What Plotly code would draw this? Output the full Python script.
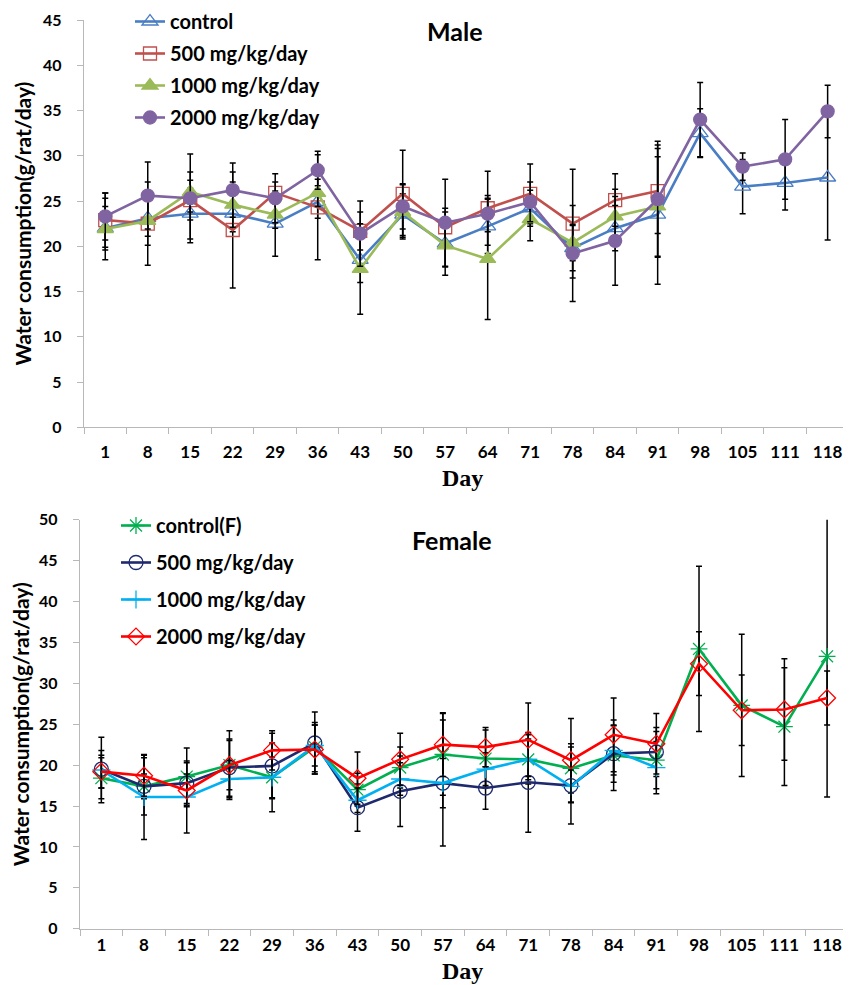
import plotly.graph_objects as go

days = ["1", "8", "15", "22", "29", "36", "43", "50", "57", "64", "71", "78", "84", "91", "98", "105", "111", "118"]
y_ticks_male = [0, 5, 10, 15, 20, 25, 30, 35, 40, 45]
y_ticks_female = [0, 5, 10, 15, 20, 25, 30, 35, 40, 45, 50]

# Male
m_control = [22.0, 23.1, 23.6, 23.6, 22.5, 24.9, 18.5, 23.5, 20.3, 22.2, 24.2, 19.8, 22.0, 23.5, 32.5, 26.6, 27.0, 27.6]
m_control_err = [2.4, 2.0, 2.8, 2.0, 3.6, 1.8, 2.5, 2.3, 3.5, 3.0, 2.0, 2.5, 2.5, 7.7, 2.7, 3.0, 3.0, 6.9]
m500 = [22.9, 22.5, 25.1, 21.8, 25.9, 24.3, 21.7, 25.8, 22.1, 24.2, 25.8, 22.5, 25.1, 26.1]
m500_err = [3.0, 4.6, 2.2, 6.4, 1.2, 5.8, 2.1, 4.8, 2.1, 4.1, 3.3, 6.0, 2.9, 4.7]
m1000 = [21.9, 22.8, 26.0, 24.6, 23.5, 25.9, 17.5, 23.8, 20.1, 18.6, 23.0, 20.4, 23.3, 24.4]
m1000_err = [3.4, 2.7, 2.2, 2.5, 1.5, 1.5, 5.0, 3.0, 2.4, 6.7, 2.4, 2.0, 3.0, 5.5]
m2000 = [23.3, 25.6, 25.3, 26.2, 25.3, 28.4, 21.4, 24.4, 22.6, 23.6, 24.9, 19.2, 20.6, 25.2, 34.0, 28.8, 29.6, 34.9]
m2000_err = [2.6, 3.7, 4.9, 3.0, 2.7, 2.1, 3.6, 2.5, 4.8, 2.0, 2.2, 5.3, 4.9, 6.4, 4.1, 1.5, 4.4, 2.9]

# Female
f_control = [18.4, 17.4, 18.6, 20.0, 18.5, 22.2, 17.0, 19.7, 21.3, 20.8, 20.7, 19.6, 21.2, 20.6, 34.2, 27.3, 24.7, 33.3]
f_control_err = [2.5, 1.5, 3.5, 3.0, 4.2, 3.0, 2.0, 2.5, 5.0, 3.5, 3.0, 3.0, 4.3, 3.5, 10.1, 8.7, 7.2, 17.2]
f500 = [19.5, 17.4, 17.8, 19.7, 19.9, 22.7, 14.8, 16.8, 17.8, 17.2, 17.9, 17.5, 21.4, 21.6]
f500_err = [2.3, 3.5, 2.5, 3.5, 4.0, 3.8, 2.9, 4.3, 7.7, 2.6, 6.1, 4.7, 3.5, 3.0]
f1000 = [19.4, 16.1, 16.1, 18.3, 18.5, 22.4, 15.7, 18.3, 17.8, 19.5, 20.7, 17.4, 21.8, 19.7]
f1000_err = [4.0, 5.2, 4.4, 2.3, 2.5, 2.5, 1.5, 2.0, 3.0, 2.0, 2.5, 2.0, 3.0, 3.2]
f2000 = [19.2, 18.7, 16.9, 20.0, 21.8, 21.9, 18.4, 20.7, 22.5, 22.2, 23.1, 20.6, 23.7, 22.6, 32.4, 26.7, 26.8, 28.2]
f2000_err = [2.0, 2.5, 2.0, 4.2, 2.4, 3.0, 3.2, 3.2, 3.9, 2.4, 4.5, 5.1, 4.5, 3.7, 3.9, 4.3, 6.2, 3.3]

FONT = "Lato"
OFF = 8  # page body margin
W, H = 851 - OFF, 985 - OFF


def px_x(p):
    return (p - OFF) / W


def px_y(p):
    return (H - (p - OFF)) / H


fig = go.Figure()


def add(x, y, err, name, color, symbol, size, xa, ya, legend, lw=2.6):
    fig.add_trace(go.Scatter(
        x=x, y=y, name=name, mode="lines+markers",
        line=dict(color=color, width=lw),
        marker=dict(symbol=symbol, size=size, color=color, line=dict(color=color, width=1.3)),
        error_y=dict(type="data", array=err, visible=True, color="black", thickness=1.5, width=3),
        xaxis=xa, yaxis=ya, legend=legend, legendgroup=name + legend,
    ))


add(days, m_control, m_control_err, "control", "#4A7EC4", "triangle-up-open", 14, "x", "y", "legend")
add(days[:14], m500, m500_err, "500 mg/kg/day", "#C0504D", "square-open", 13, "x", "y", "legend")
add(days[:14], m1000, m1000_err, "1000 mg/kg/day", "#9BBB59", "triangle-up", 14, "x", "y", "legend")
add(days, m2000, m2000_err, "2000 mg/kg/day", "#8064A2", "circle", 13, "x", "y", "legend")

add(days, f_control, f_control_err, "control(F)", "#00B050", "asterisk-open", 14, "x2", "y2", "legend2")
add(days[:14], f500, f500_err, "500 mg/kg/day", "#1F2A6E", "circle-open", 14, "x2", "y2", "legend2")
add(days[:14], f1000, f1000_err, "1000 mg/kg/day", "#00B0F0", "cross-thin-open", 13, "x2", "y2", "legend2")
add(days, f2000, f2000_err, "2000 mg/kg/day", "#FF0000", "diamond-open", 13, "x2", "y2", "legend2")

axis_common = dict(showgrid=False, zeroline=False, showline=True, linecolor="#B8B8B8", linewidth=1.3,
                   ticks="outside", tickcolor="#B8B8B8", ticklen=6, automargin=False)
xfont = dict(family=FONT, size=17, color="black", weight="bold")
yfont = dict(family=FONT, size=16, color="black", weight="bold")
ytitle_font = dict(family=FONT, size=21, weight="bold")

fig.update_layout(
    width=W, height=H, margin=dict(l=0, r=0, t=0, b=0, autoexpand=False),
    plot_bgcolor="white", paper_bgcolor="white",
    font=dict(family=FONT, color="black"),
    xaxis=dict(**axis_common, type="category", categoryorder="array", categoryarray=days,
               tickson="boundaries", range=[-0.5, 17.55], tickfont=xfont,
               domain=[px_x(84), 1], anchor="y", ticklabelstandoff=9),
    yaxis=dict(**axis_common, range=[0, 45], tickvals=y_ticks_male, tickfont=yfont,
               domain=[px_y(427.3), px_y(20)], anchor="x", ticklabelstandoff=12,
               title=dict(text="Water consumption(g/rat/day)", font=ytitle_font, standoff=5)),
    xaxis2=dict(**axis_common, type="category", categoryorder="array", categoryarray=days,
                tickson="boundaries", range=[-0.5, 17.56], tickfont=xfont,
                domain=[px_x(80), 1], anchor="y2", ticklabelstandoff=1),
    yaxis2=dict(**axis_common, range=[0, 50], tickvals=y_ticks_female, tickfont=yfont,
                domain=[px_y(928.7), px_y(519.7)], anchor="x2", ticklabelstandoff=12,
                title=dict(text="Water consumption(g/rat/day)", font=ytitle_font, standoff=5)),
    legend=dict(x=px_x(130), y=1.0 + 6 / H, xanchor="left", yanchor="top", bgcolor="rgba(0,0,0,0)",
                font=dict(family=FONT, size=20, weight="bold"), traceorder="grouped", tracegroupgap=3),
    legend2=dict(x=px_x(116), y=px_y(506), xanchor="left", yanchor="top", bgcolor="rgba(0,0,0,0)",
                 font=dict(family=FONT, size=20, weight="bold"), traceorder="grouped", tracegroupgap=8),
    annotations=[
        dict(text="Male", x=px_x(455), y=px_y(31), xref="paper", yref="paper", showarrow=False,
             xanchor="center", yanchor="middle", font=dict(family=FONT, size=25, weight="bold")),
        dict(text="Female", x=px_x(452), y=px_y(540), xref="paper", yref="paper", showarrow=False,
             xanchor="center", yanchor="middle", font=dict(family=FONT, size=25, weight="bold")),
        dict(text="Day", x=px_x(462), y=px_y(478), xref="paper", yref="paper", showarrow=False,
             xanchor="center", yanchor="middle", font=dict(family="Liberation Serif", size=24, weight="bold")),
        dict(text="Day", x=px_x(462), y=px_y(971), xref="paper", yref="paper", showarrow=False,
             xanchor="center", yanchor="middle", font=dict(family="Liberation Serif", size=24, weight="bold")),
    ],
)

fig.write_html("out.html")
